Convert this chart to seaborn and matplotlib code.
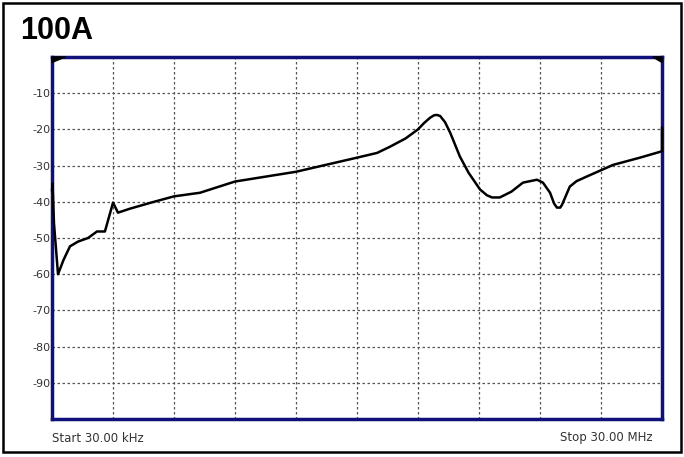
import pandas as pd
import numpy as np
import matplotlib.pyplot as plt
import seaborn as sns
from matplotlib import font_manager as fm
from matplotlib.patches import Rectangle, Polygon

# frequency in MHz (linear sweep 30 kHz .. 30 MHz), level in dB
freq_mhz = [0.03, 0.055, 0.128, 0.325, 0.6, 0.914, 1.307, 1.80, 2.24, 2.63, 3.03, 3.27,
            3.86, 4.85, 6.02, 7.30, 9.02, 12.02, 15.02, 16.0, 16.63, 17.4, 18.01, 18.3,
            18.6, 18.8, 18.94, 19.1, 19.34, 19.6, 20.07, 20.5, 21.06, 21.4, 21.65, 22.03,
            22.6, 23.17, 23.86, 24.15, 24.5, 24.7, 24.84, 25.0, 25.09, 25.47, 25.8, 26.31,
            27.6, 28.92, 29.9, 30.0, 30.0]
level_db = [-37.0, -35.0, -46.0, -60.0, -56.0, -52.3, -51.0, -50.0, -48.2, -48.2, -40.2, -43.0,
            -41.9, -40.3, -38.5, -37.5, -34.4, -31.7, -27.8, -26.5, -24.8, -22.5, -20.0, -18.3,
            -16.8, -16.1, -16.0, -16.3, -18.0, -21.0, -27.5, -32.0, -36.6, -38.2, -38.8, -38.8,
            -37.2, -34.7, -33.9, -34.7, -37.5, -40.5, -41.6, -41.6, -40.8, -35.8, -34.3, -33.0,
            -29.8, -27.8, -26.2, -26.0, -19.5]
y_ticks = [-10, -20, -30, -40, -50, -60, -70, -80, -90]

df = pd.DataFrame({"freq": freq_mhz, "db": level_db})

sns.set_style("white")
plt.rcParams['font.family'] = ['DejaVu Sans']

# plain (not narrow) Liberation Sans Bold for the title
bold_file = None
for f in fm.fontManager.ttflist:
    if f.name == "Liberation Sans" and f.weight in (700, "bold") and "Narrow" not in f.fname \
            and "Italic" not in f.fname:
        bold_file = f.fname
        break
title_font = fm.FontProperties(fname=bold_file, size=22) if bold_file else \
    fm.FontProperties(family="DejaVu Sans", weight="bold", size=20)

fig = plt.figure(figsize=(6.84, 4.57), dpi=100)
ax = fig.add_axes([52/684, 38/457, 610/684, 362/457])

sns.lineplot(data=df, x="freq", y="db", estimator=None, sort=False,
             color="black", linewidth=1.8, ax=ax)
for ln in ax.lines:
    ln.set_zorder(3)
    ln.set_clip_on(False)

ax.set_xlim(0.03, 30.0)
ax.set_ylim(-100, 0)
ax.set_xticks(np.linspace(0.03, 30.0, 11))
ax.set_yticks(y_ticks)
ax.set_yticklabels([str(t) for t in y_ticks], fontsize=8, color="#333333")
ax.tick_params(axis="x", length=0, labelbottom=False)
ax.tick_params(axis="y", length=0, pad=1)
ax.grid(True, linestyle=(0, (2, 2)), color="#555555", linewidth=0.9)
ax.set_xlabel("")
ax.set_ylabel("")
for side in ax.spines.values():
    side.set_color("#10107a")
    side.set_linewidth(2.5)

# corner markers
ax.add_patch(Polygon([[0, 1], [0.022, 1], [0, 0.985]], closed=True, transform=ax.transAxes,
                     color="black", clip_on=False, zorder=4))
ax.add_patch(Polygon([[1, 1], [0.985, 1], [1, 0.985]], closed=True, transform=ax.transAxes,
                     color="black", clip_on=False, zorder=4))

fig.text(20/684, 1 - 31/457, "100A", fontproperties=title_font, color="black",
         va="center", ha="left")
fig.text(52/684, 1 - 438/457, "Start 30.00 kHz", fontsize=8.5, color="#333333", va="center")
fig.text(653/684, 1 - 438/457, "Stop 30.00 MHz", fontsize=8.5, color="#333333", va="center",
         ha="right")

fig.patches.append(Rectangle((3/684, 5/457), 678/684, 449/457, transform=fig.transFigure,
                             fill=False, edgecolor="black", linewidth=1.8))

fig.savefig("out.png", dpi=100)
